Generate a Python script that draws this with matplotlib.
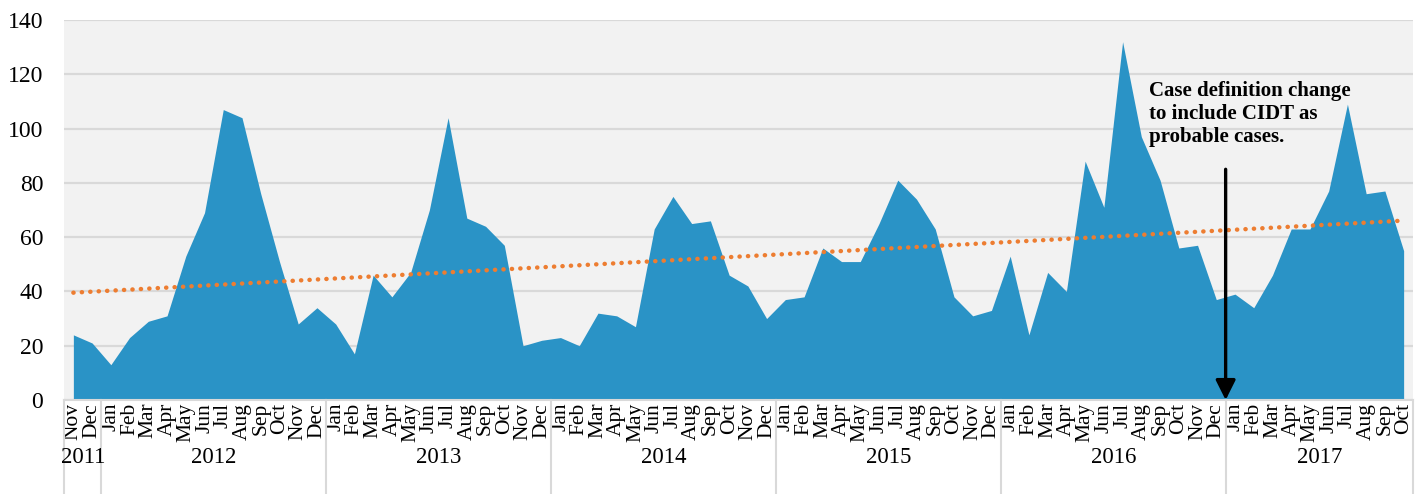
import numpy as np
import matplotlib
matplotlib.use('Agg')
import matplotlib.pyplot as plt
from matplotlib.transforms import blended_transform_factory

# monthly case counts, Nov 2011 - Oct 2017
months = (['Nov', 'Dec']
          + ['Jan', 'Feb', 'Mar', 'Apr', 'May', 'Jun', 'Jul', 'Aug', 'Sep', 'Oct', 'Nov', 'Dec'] * 5
          + ['Jan', 'Feb', 'Mar', 'Apr', 'May', 'Jun', 'Jul', 'Aug', 'Sep', 'Oct'])
years = ['2011', '2012', '2013', '2014', '2015', '2016', '2017']
months_per_year = [2, 12, 12, 12, 12, 12, 10]
cases = [24, 21,
         13, 23, 29, 31, 53, 69, 107, 104, 76, 51, 28, 34,
         28, 17, 46, 38, 47, 70, 104, 67, 64, 57, 20, 22,
         23, 20, 32, 31, 27, 63, 75, 65, 66, 46, 42, 30,
         37, 38, 56, 51, 51, 65, 81, 74, 63, 38, 31, 33,
         53, 24, 47, 40, 88, 71, 132, 97, 81, 56, 57, 37,
         39, 34, 46, 63, 63, 77, 109, 76, 77, 55]
note = 'Case definition change\nto include CIDT as\nprobable cases.'

plt.rcParams['font.family'] = ['Liberation Serif', 'DejaVu Serif']

fig = plt.figure(figsize=(14.24, 4.94), dpi=100)
ax = fig.add_axes([64 / 1424, 1 - 400 / 494, (1413 - 64) / 1424, 380 / 494])
ax.set_facecolor('#F2F2F2')

x = np.arange(len(cases))
ax.fill_between(x, cases, 0, color='#2A93C6', lw=0, zorder=2)

# linear trendline
k, b = np.polyfit(x, cases, 1)
ax.plot(x, k * x + b, color='#ED7D31', lw=3.2, ls=(0, (0.05, 1.85)),
        dash_capstyle='round', zorder=3)

ax.set_xlim(-0.5, len(cases) - 0.5)
ax.set_ylim(0, 140)
ax.set_yticks(range(0, 141, 20))
ax.yaxis.grid(True, color='#D9D9D9', lw=1.6, zorder=1)
ax.set_axisbelow(True)
for s in ['top', 'right', 'left']:
    ax.spines[s].set_visible(False)
ax.spines['bottom'].set_color('#D9D9D9')
ax.spines['bottom'].set_linewidth(1.5)
ax.tick_params(axis='y', length=0, labelsize=17, pad=15)
ax.set_xticks(x)
ax.set_xticklabels(months, rotation=90, fontsize=15.5, va='top')
ax.tick_params(axis='x', length=0, pad=2)

# year labels and separators below the axis
trans = blended_transform_factory(ax.transData, ax.transAxes)
start = -0.5
for yr, n in zip(years, months_per_year):
    ax.plot([start, start], [0, -0.25], color='#D9D9D9', lw=1.5,
            transform=trans, clip_on=False)
    ax.text(start + n / 2, -0.15, yr, transform=trans, ha='center',
            va='center', fontsize=16.5)
    start += n
ax.plot([start, start], [0, -0.25], color='#D9D9D9', lw=1.5,
        transform=trans, clip_on=False)

# annotation for case definition change
ax.annotate('', xy=(61.5, 0), xytext=(61.5, 85),
            arrowprops=dict(arrowstyle='-|>', color='black', lw=2.4,
                            mutation_scale=30, shrinkA=0, shrinkB=0),
            zorder=5)
ax.text(57.4, 117.5, note, ha='left', va='top', fontsize=15,
        fontweight='bold', linespacing=1.2, zorder=5)

fig.savefig('out.png', dpi=100)
